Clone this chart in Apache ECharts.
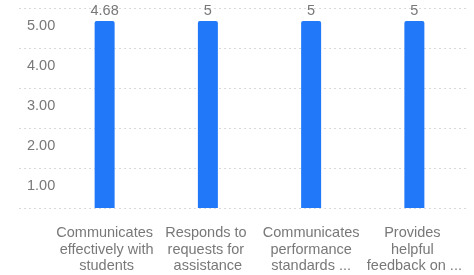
<!DOCTYPE html>
<html>
<head>
<meta charset="utf-8">
<script src="https://cdn.jsdelivr.net/npm/echarts@6/dist/echarts.min.js"></script>
<style>
  html, body { margin: 0; padding: 0; background: #fff; }
  #chart { width: 474px; height: 275px; }
</style>
</head>
<body>
<div id="chart"></div>
<script>
const categories = [
  "Communicates effectively with students",
  "Responds to requests for assistance",
  "Communicates performance standards ...",
  "Provides helpful feedback on ..."
];
const scores = [4.68, 5, 5, 5];
const yTicks = [0, 1, 2, 3, 4, 5];

const chart = echarts.init(document.getElementById("chart"));
const textColor = "#787878";
const font = "Liberation Sans, Arial, sans-serif";

chart.setOption({
  animation: false,
  grid: [
    // bars
    { left: 53, right: 8, top: 21, bottom: 67 },
    // gridlines + y labels
    { left: 19, right: 8, top: 8, bottom: 67 }
  ],
  xAxis: [
    {
      type: "category",
      gridIndex: 0,
      data: categories,
      axisLine: { show: false },
      axisTick: { show: false },
      axisLabel: {
        interval: 0,
        margin: 17,
        color: textColor,
        fontFamily: font,
        fontSize: 14.5,
        lineHeight: 16.5,
        width: 100,
        overflow: "break"
      }
    },
    { type: "value", gridIndex: 1, show: false, min: 0, max: 1 }
  ],
  yAxis: [
    { type: "value", gridIndex: 0, show: false, min: 0, max: 4.65 },
    {
      type: "value",
      gridIndex: 1,
      min: yTicks[0],
      max: yTicks[yTicks.length - 1],
      interval: 1,
      axisLine: { show: false },
      axisTick: { show: false },
      splitLine: {
        lineStyle: { color: "#d9d9d9", type: [2, 3], width: 1 }
      },
      axisLabel: {
        inside: true,
        showMinLabel: false,
        verticalAlign: "top",
        padding: [10, 0, 0, 0],
        color: textColor,
        fontFamily: font,
        fontSize: 14.5,
        formatter: v => v.toFixed(2)
      }
    }
  ],
  series: [
    {
      type: "bar",
      xAxisIndex: 0,
      yAxisIndex: 0,
      data: scores,
      barWidth: 20,
      clip: true,
      itemStyle: { color: "#2178f8", borderRadius: [2, 2, 0, 0] },
      label: {
        show: true,
        position: "top",
        distance: 3,
        color: textColor,
        fontFamily: font,
        fontSize: 14.5
      }
    }
  ]
});
</script>
</body>
</html>
